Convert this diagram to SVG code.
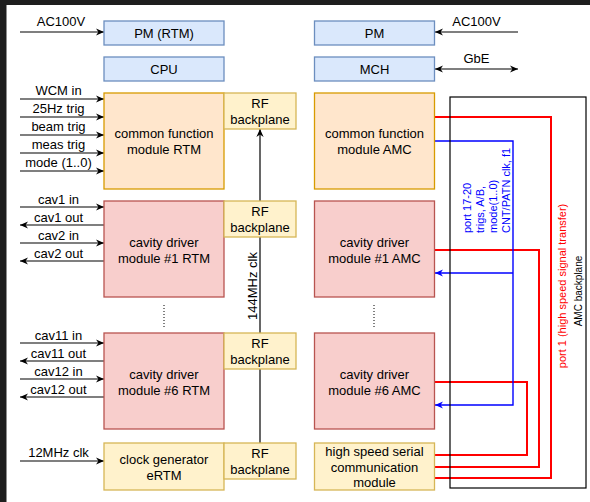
<svg xmlns="http://www.w3.org/2000/svg" width="590" height="502" viewBox="0 0 590 502">
<style>
text{font-family:"Liberation Sans",Arial,sans-serif;fill:#000}
.t{font-size:13px;text-anchor:middle}
.l{font-size:13px;text-anchor:middle}
.blue{fill:#dae8fc;stroke:#6c8ebf;stroke-width:1.3}
.org{fill:#ffe6cc;stroke:#d79b00;stroke-width:1.3}
.red{fill:#f8cecc;stroke:#b85450;stroke-width:1.3}
.yel{fill:#fff2cc;stroke:#d6b656;stroke-width:1.3}
.c{fill:none;stroke:#000;stroke-width:1.2}
.r{fill:none;stroke:#ff0000;stroke-width:2}
.b{fill:none;stroke:#0000ff;stroke-width:1.4}
.dot{fill:none;stroke:#000;stroke-width:1;stroke-dasharray:1 2}
</style>
<defs>
<marker id="a" viewBox="0 0 10 10" refX="10" refY="5" markerWidth="8" markerHeight="8" markerUnits="userSpaceOnUse" orient="auto-start-reverse">
<path d="M0,0.5 L10,5 L0,9.5 L3,5 z" fill="#000"/>
</marker>
<marker id="ab" viewBox="0 0 10 10" refX="10" refY="5" markerWidth="8" markerHeight="8" markerUnits="userSpaceOnUse" orient="auto">
<path d="M0,0.5 L10,5 L0,9.5 L3,5 z" fill="#0000ff"/>
</marker>
</defs>
<rect x="0" y="0" width="590" height="502" fill="#ffffff"/>
<rect x="0" y="0" width="6.5" height="502" fill="#1e1e1e"/>
<rect x="0" y="0" width="590" height="5" fill="#1e1e1e"/>

<g id="connectors">
<!-- left inputs -->
<path class="c" d="M20,32 H104" marker-end="url(#a)"/>
<path class="c" d="M20,99 H104" marker-end="url(#a)"/>
<path class="c" d="M20,117 H104" marker-end="url(#a)"/>
<path class="c" d="M20,135 H104" marker-end="url(#a)"/>
<path class="c" d="M20,153 H104" marker-end="url(#a)"/>
<path class="c" d="M20,171 H104" marker-end="url(#a)"/>
<path class="c" d="M20,207 H104" marker-end="url(#a)"/>
<path class="c" d="M104,225 H20" marker-end="url(#a)"/>
<path class="c" d="M20,243 H104" marker-end="url(#a)"/>
<path class="c" d="M104,261 H20" marker-end="url(#a)"/>
<path class="c" d="M20,343 H104" marker-end="url(#a)"/>
<path class="c" d="M104,361 H20" marker-end="url(#a)"/>
<path class="c" d="M20,379 H104" marker-end="url(#a)"/>
<path class="c" d="M104,397 H20" marker-end="url(#a)"/>
<path class="c" d="M20,461 H104" marker-end="url(#a)"/>
<!-- right -->
<path class="c" d="M518,32 H435" marker-end="url(#a)"/>
<path class="c" d="M435,69 H518" marker-start="url(#a)" marker-end="url(#a)"/>
<!-- 144MHz clk -->
<path class="c" d="M260,443 V129" marker-end="url(#a)"/>
<!-- dotted -->
<path class="dot" d="M164,305 V327"/>
<path class="dot" d="M374,305 V327"/>
<!-- red -->
<path class="r" d="M434,117 H551 V478 H434"/>
<path class="r" d="M434,250 H539 V467 H434"/>
<path class="r" d="M434,382 H527 V455 H434"/>
<!-- blue -->
<path class="b" d="M434,141 H513 V405 H435" marker-end="url(#ab)"/>
<path class="b" d="M513,273 H435" marker-end="url(#ab)"/>
</g>

<g id="connector-labels">
<text class="l" x="61" y="26">AC100V</text>
<text class="l" x="58.5" y="95">WCM in</text>
<text class="l" x="58.5" y="113">25Hz trig</text>
<text class="l" x="58.5" y="131">beam trig</text>
<text class="l" x="58.5" y="149">meas trig</text>
<text class="l" x="58.5" y="167">mode (1..0)</text>
<text class="l" x="58.5" y="204">cav1 in</text>
<text class="l" x="58.5" y="222">cav1 out</text>
<text class="l" x="58.5" y="240">cav2 in</text>
<text class="l" x="58.5" y="258">cav2 out</text>
<text class="l" x="58.5" y="340">cav11 in</text>
<text class="l" x="58.5" y="357.5">cav11 out</text>
<text class="l" x="58.5" y="376">cav12 in</text>
<text class="l" x="58.5" y="393.5">cav12 out</text>
<text class="l" x="58.5" y="457">12MHz clk</text>
<text class="l" x="476.5" y="26">AC100V</text>
<text class="l" x="476.5" y="62.5">GbE</text>
<text class="l" transform="translate(256.5,286) rotate(-90)">144MHz clk</text>
<g transform="translate(470.5,233) rotate(-90)" style="font-size:11px;fill:#0000ff">
<text x="0" y="0" style="fill:#0000ff">port 17-20</text>
<text x="0" y="13.3" style="fill:#0000ff">trigs, A/B,</text>
<text x="0" y="26.6" style="fill:#0000ff">mode(1..0)</text>
<text x="0" y="39.9" style="fill:#0000ff">CNT/PATN clk, f1</text>
</g>
<text transform="translate(566,286) rotate(-90)" style="font-size:11px;fill:#ff0000;text-anchor:middle">port 1 (high speed signal transfer)</text>
</g>

<g id="amc-backplane">
<rect x="450" y="97" width="136" height="391" fill="none" stroke="#000" stroke-width="1.2"/>
<text transform="translate(582,291) rotate(-90)" style="font-size:10px;text-anchor:middle">AMC backplane</text>
</g>

<g id="pm-rtm"><rect class="blue" x="104" y="21" width="120" height="24"/><text class="t" x="164" y="37.5">PM (RTM)</text></g>
<g id="cpu"><rect class="blue" x="104" y="57" width="120" height="24"/><text class="t" x="164" y="73.5">CPU</text></g>
<g id="pm"><rect class="blue" x="314.5" y="21" width="120" height="24"/><text class="t" x="374.5" y="37.5">PM</text></g>
<g id="mch"><rect class="blue" x="314.5" y="57" width="120" height="24"/><text class="t" x="374.5" y="73.5">MCH</text></g>

<g id="cfm-rtm"><rect class="org" x="104" y="93" width="120" height="96"/><text class="t" x="164" y="138">common function</text><text class="t" x="164" y="154">module RTM</text></g>
<g id="rf1"><rect class="yel" x="224" y="93" width="72" height="36"/><text class="t" x="260" y="108">RF</text><text class="t" x="260" y="124">backplane</text></g>
<g id="cfm-amc"><rect class="org" x="314.5" y="93" width="120" height="96"/><text class="t" x="374.5" y="138">common function</text><text class="t" x="374.5" y="154">module AMC</text></g>

<g id="cd1-rtm"><rect class="red" x="104" y="201" width="120" height="96"/><text class="t" x="164" y="246.5">cavity driver</text><text class="t" x="164" y="262.5">module #1 RTM</text></g>
<g id="rf2"><rect class="yel" x="224" y="201" width="72" height="36"/><text class="t" x="260" y="216">RF</text><text class="t" x="260" y="232">backplane</text></g>
<g id="cd1-amc"><rect class="red" x="314.5" y="201" width="120" height="96"/><text class="t" x="374.5" y="246.5">cavity driver</text><text class="t" x="374.5" y="262.5">module #1 AMC</text></g>

<g id="cd6-rtm"><rect class="red" x="104" y="333" width="120" height="96"/><text class="t" x="164" y="378.5">cavity driver</text><text class="t" x="164" y="394.5">module #6 RTM</text></g>
<g id="rf3"><rect class="yel" x="224" y="333" width="72" height="36"/><text class="t" x="260" y="348">RF</text><text class="t" x="260" y="364">backplane</text></g>
<g id="cd6-amc"><rect class="red" x="314.5" y="333" width="120" height="96"/><text class="t" x="374.5" y="378.5">cavity driver</text><text class="t" x="374.5" y="394.5">module #6 AMC</text></g>

<g id="clkgen"><rect class="yel" x="104" y="443" width="120" height="47"/><text class="t" x="164" y="463.5">clock generator</text><text class="t" x="164" y="479.5">eRTM</text></g>
<g id="rf4"><rect class="yel" x="224" y="443" width="72" height="36"/><text class="t" x="260" y="458">RF</text><text class="t" x="260" y="474">backplane</text></g>
<g id="hss"><rect class="yel" x="314.5" y="443" width="120" height="47"/><text class="t" x="374.5" y="456">high speed serial</text><text class="t" x="374.5" y="471.5">communication</text><text class="t" x="374.5" y="487">module</text></g>
</svg>
